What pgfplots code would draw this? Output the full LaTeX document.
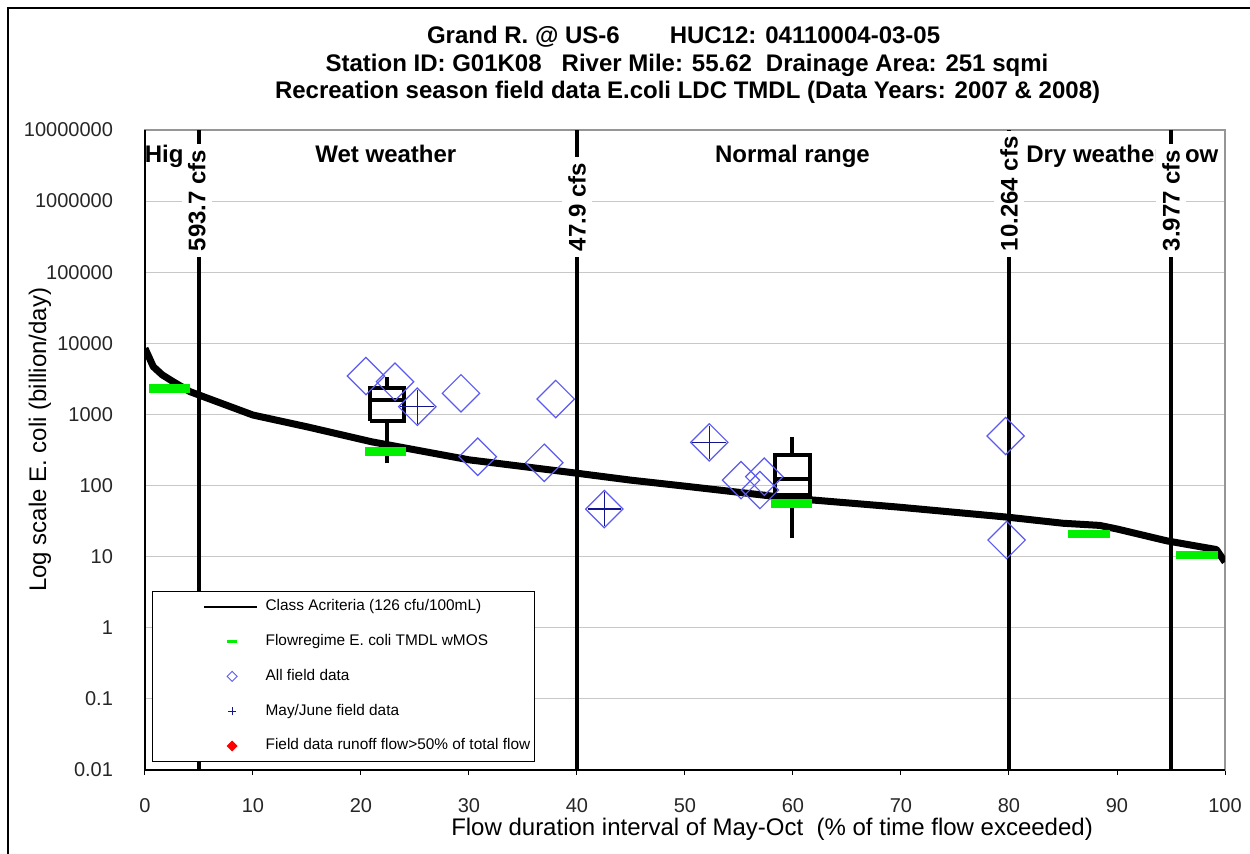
\documentclass[border=0pt]{standalone}
\usepackage{fontspec}
\setmainfont{Liberation Sans}
\usepackage{pgfplots}
\pgfplotsset{compat=1.18}
\definecolor{diablue}{RGB}{90,90,240}
\definecolor{plusnavy}{RGB}{20,20,140}
\definecolor{tmdlgreen}{RGB}{0,240,0}
\definecolor{gridgray}{RGB}{200,200,200}
\definecolor{framegray}{RGB}{150,150,150}
\begin{document}
\begin{tikzpicture}
\begin{axis}[
  at={(0pt,0pt)}, anchor=south west,
  scale only axis, width=540pt, height=320pt,
  xmin=0, xmax=100, ymode=log, ymin=0.01, ymax=1e7,
  xtick={0,10,...,100},
  ytick={0.01,0.1,1,10,100,1000,10000,100000,1000000,10000000},
  yticklabels={0.01,0.1,1,10,100,1000,10000,100000,1000000,10000000},
  minor y tick style={draw=none},
  tick pos=left,
  tick align=outside,
  major tick length=2.5pt,
  xtick style={black, line width=0.5pt},
  ytick style={draw=none},
  ymajorgrids, grid style={gridgray, line width=0.5pt},
  axis line style={framegray, line width=0.7pt},
  /pgf/number format/assume math mode=true,
  tick label style={font=\fontsize{10}{12}\selectfont, text=black!85},
  xticklabel style={yshift=-8pt},
  yticklabel style={xshift=-10pt},
  xlabel={Flow duration interval of May-Oct\ \ (\% of time flow exceeded)},
  xlabel style={at={(rel axis cs:0.5806,-0.103)}, anchor=base, font=\fontsize{12}{14}\selectfont},
  ylabel={Log scale E. coli (billion/day)},
  ylabel style={at={(rel axis cs:-0.0972,0.516)}, anchor=center, font=\fontsize{12}{14}\selectfont},
  legend style={at={(rel axis cs:0.0065,0.2797)}, anchor=north west, draw=black, line width=0.6pt, fill=white,
    font=\fontsize{7.7}{9}\selectfont, inner xsep=2pt, inner ysep=4pt, row sep=10.2pt, column sep=0pt,
    cells={anchor=west}, nodes={inner sep=0pt, text height=5.6pt, text depth=1.6pt}},
  legend cell align=left,
  after end axis/.code={\draw[black, line width=0.8pt] (rel axis cs:0,1) -- (rel axis cs:0,0) -- (rel axis cs:1,0);},
]
% flow regime boundaries
\addplot[black, line width=2.3pt, forget plot] coordinates {(5,0.01) (5,1e7)};
\addplot[black, line width=2.3pt, forget plot] coordinates {(40,0.01) (40,1e7)};
\addplot[black, line width=2.3pt, forget plot] coordinates {(80,0.01) (80,1e7)};
\addplot[black, line width=2.3pt, forget plot] coordinates {(95,0.01) (95,1e7)};
% load duration curve
\addplot[black, line width=3.5pt, line join=round,
  legend image code/.code={\path (-22pt,0pt) (29pt,0pt); \draw[black,line width=1pt] (0pt,0pt) -- (26.5pt,0pt);}]
  coordinates {(0,8500) (0.77,4690) (1.6,3600) (2.62,2880) (4.17,2090) (5,1875) (10,980) (15,670) (21,412)
  (30,230) (40,149) (45,119) (50,98) (58.8,69) (60,66) (69.6,50) (79.8,36) (85,29.5) (88.4,27.5) (90,24.5)
  (94.6,16.7) (97.7,13.8) (99.2,12.6) (100,8.4)};
\addlegendentry{Class Acriteria (126 cfu/100mL)}
% box plot 1 (whiskers, box, median)
\addplot[black, line width=2pt, forget plot] coordinates {(22.4,205) (22.4,816)};
\addplot[black, line width=2pt, forget plot] coordinates {(22.4,2330) (22.4,3400)};
\addplot[black, line width=2pt, forget plot, line join=miter] coordinates {(20.8,816) (24.0,816) (24.0,2330) (20.8,2330) (20.8,816)};
\addplot[black, line width=2pt, forget plot] coordinates {(20.8,1615) (24.0,1615)};
% box plot 2
\addplot[black, line width=2pt, forget plot] coordinates {(59.95,18.1) (59.95,73.5)};
\addplot[black, line width=2pt, forget plot] coordinates {(59.95,268) (59.95,486)};
\addplot[black, line width=2pt, forget plot, line join=miter] coordinates {(58.35,73.5) (61.55,73.5) (61.55,268) (58.35,268) (58.35,73.5)};
\addplot[black, line width=2pt, forget plot] coordinates {(58.35,123) (61.55,123)};
% TMDL
\addplot[only marks, mark=-, mark size=10.3pt, mark options={draw=tmdlgreen, line width=4.3pt},
  legend image code/.code={\path (-22pt,0pt) (29pt,0pt); \draw[tmdlgreen,line width=1.6pt] (11.5pt,0pt) -- (16.5pt,0pt);}]
  coordinates {(2.28,2328) (22.3,299) (59.85,55.5) (87.4,20.8) (97.4,10.5)};
\addlegendentry{Flowregime E. coli TMDL wMOS}
% all field data
\addplot[only marks, mark=square, mark size=6.6pt, mark options={rotate=45, draw=diablue, line width=0.6pt, fill=none},
  legend image code/.code={\path (-22pt,0pt) (29pt,0pt); \draw[diablue,line width=0.5pt] (14pt,2.5pt) -- (16.5pt,0pt) -- (14pt,-2.5pt) -- (11.5pt,0pt) -- cycle;}]
  coordinates {(20.46,3467) (23.15,2884) (25.21,1283) (29.26,1982) (38.03,1647) (30.81,254) (36.97,209)
  (42.53,46.7) (52.25,405) (55.19,119) (57.34,133) (56.94,86.5) (79.69,497) (79.78,17.1)};
\addlegendentry{All field data}
% May/June
\addplot[only marks, mark=+, mark size=8.4pt, mark options={draw=plusnavy, line width=0.6pt},
  legend image code/.code={\path (-22pt,0pt) (29pt,0pt); \draw[plusnavy,line width=0.6pt] (12pt,0pt) -- (16pt,0pt) (14pt,-2pt) -- (14pt,2pt);}]
  coordinates {(25.21,1283) (42.53,46.7) (52.25,405)};
\addlegendentry{May/June field data}
\addlegendimage{legend image code/.code={\path (-22pt,0pt) (29pt,0pt); \fill[red] (14pt,2.3pt) -- (16.3pt,0pt) -- (14pt,-2.3pt) -- (11.7pt,0pt) -- cycle;}}
\addlegendentry{Field data runoff flow>50\% of total flow}
% regime names
\node[anchor=base, font=\bfseries\fontsize{12}{14}\selectfont] at (axis cs:2.45,3.5e6) {High};
\node[anchor=base, font=\bfseries\fontsize{12}{14}\selectfont] at (axis cs:22.3,3.5e6) {Wet weather};
\node[anchor=base, font=\bfseries\fontsize{12}{14}\selectfont] at (axis cs:59.95,3.5e6) {Normal range};
\node[anchor=base, font=\bfseries\fontsize{12}{14}\selectfont] at (axis cs:90.5,3.5e6) {Dry weather flow};
% boundary flows
\node[rotate=90, anchor=west, fill=white, inner sep=3pt, font=\bfseries\fontsize{12}{14}\selectfont] at (axis cs:4.8,1.6e5) {593.7 cfs};
\node[rotate=90, anchor=west, fill=white, inner sep=3pt, font=\bfseries\fontsize{12}{14}\selectfont] at (axis cs:40,1.6e5) {47.9 cfs};
\node[rotate=90, anchor=west, fill=white, inner sep=3pt, font=\bfseries\fontsize{12}{14}\selectfont] at (axis cs:80,1.6e5) {10.264 cfs};
\node[rotate=90, anchor=west, fill=white, inner sep=3pt, font=\bfseries\fontsize{12}{14}\selectfont] at (axis cs:95,1.6e5) {3.977 cfs};
\end{axis}
% titles
\node[anchor=base, font=\bfseries\fontsize{12}{14}\selectfont] at (269.3pt,363pt) {Grand R. @ US-6\hspace{25pt}HUC12: 04110004-03-05};
\node[anchor=base, font=\bfseries\fontsize{12}{14}\selectfont] at (271pt,349pt) {Station ID: G01K08\hspace{10pt}River Mile: 55.62\hspace{7pt}Drainage Area: 251 sqmi};
\node[anchor=base, font=\bfseries\fontsize{12}{14}\selectfont] at (271.3pt,335.5pt) {Recreation season field data E.coli LDC TMDL (Data Years: 2007 \& 2008)};
% outer frame
\draw[black, line width=1pt] (-68.5pt,-45pt) rectangle (557.5pt,381pt);
\pgfresetboundingbox
\path[use as bounding box] (-72.5pt,-42pt) rectangle (552.5pt,385pt);
\end{tikzpicture}
\end{document}
